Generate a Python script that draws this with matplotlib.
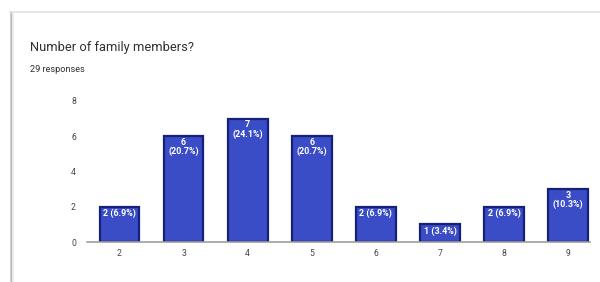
import matplotlib
matplotlib.use("Agg")
import matplotlib.pyplot as plt
from matplotlib.lines import Line2D

categories = ["2", "3", "4", "5", "6", "7", "8", "9"]
counts = [2, 6, 7, 6, 2, 1, 2, 3]
labels = ["2 (6.9%)", "6\n(20.7%)", "7\n(24.1%)", "6\n(20.7%)",
          "2 (6.9%)", "1 (3.4%)", "2 (6.9%)", "3\n(10.3%)"]
yticks = [0, 2, 4, 6, 8]
title = "Number of family members?"
subtitle = "29 responses"

plt.rcParams['font.family'] = ['Roboto', 'DejaVu Sans']

fig = plt.figure(figsize=(6, 2.82), dpi=100)
W, H = 600, 282

# card borders
fig.add_artist(Line2D([10.5 / W, 10.5 / W], [0, 1 - 12 / H], color="#bdbdbd", lw=1.8))
fig.add_artist(Line2D([12.5 / W, 12.5 / W], [0, 1 - 12 / H], color="#ececec", lw=1.2))
fig.add_artist(Line2D([10 / W, 1], [1 - 12 / H, 1 - 12 / H], color="#e2e2e2", lw=1.2))

fig.text(30 / W, 1 - 47 / H, title, fontsize=9.3, color="#303030", va="center", ha="left")
fig.text(30 / W, 1 - 69 / H, subtitle, fontsize=6.6, color="#303030", va="center", ha="left")

ax = fig.add_axes([87 / W, 1 - 242 / H, (590 - 87) / W, (242 - 101) / H])
x = list(range(len(categories)))
ax.bar(x, counts, width=0.62, color="#3a4cc6", edgecolor="#15207a", linewidth=1.6, zorder=2)
for xi, c, lab in zip(x, counts, labels):
    ax.text(xi, c - 0.1, lab, ha="center", va="top", color="white", fontsize=6.4,
            fontweight="bold", linespacing=1.0, zorder=3)

ax.set_xlim(-0.507, 7.34)
ax.set_ylim(0, 8)
ax.set_yticks(yticks)
ax.set_xticks(x)
ax.set_xticklabels(categories)
for s in ["top", "right", "left"]:
    ax.spines[s].set_visible(False)
ax.spines["bottom"].set_color("#9e9e9e")
ax.spines["bottom"].set_linewidth(1.2)
ax.tick_params(axis="both", length=0, labelsize=6.2, labelcolor="#444444")
ax.tick_params(axis="x", pad=5)
ax.tick_params(axis="y", pad=8)

fig.savefig("out.png", dpi=100)
